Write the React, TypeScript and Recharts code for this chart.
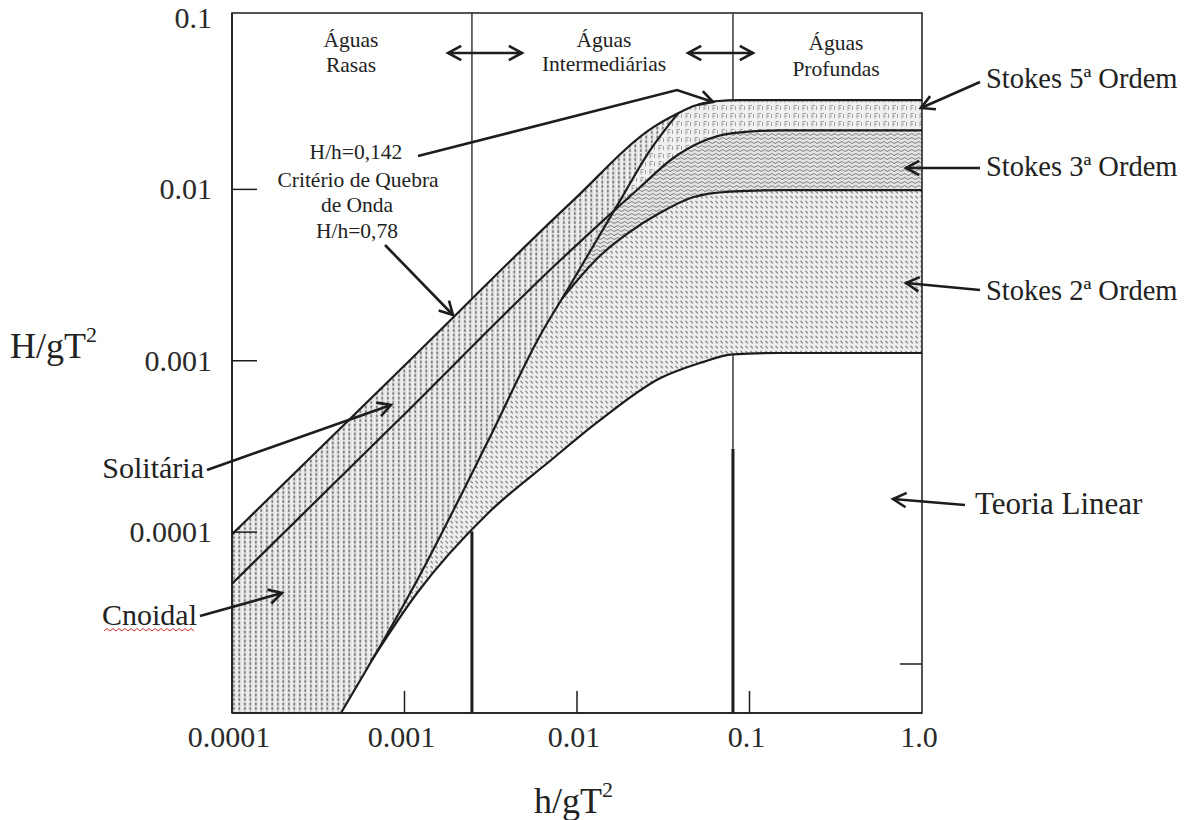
import React from 'react';
import { ComposedChart, Area, Line, XAxis, YAxis, ReferenceLine, ReferenceArea } from 'recharts';

const W = 1189;
const H = 820;
const SERIF = '"Liberation Serif", "Times New Roman", serif';
const INK = '#1d1d1d';

// axes (h/gT2 and H/gT2, both log)
const xDomain = [1e-4, 1];
const yDomain = [8.8e-6, 0.107];
const xTicks = [1e-4, 1e-3, 1e-2, 1e-1, 1];
const xTickLabels = ['0.0001', '0.001', '0.01', '0.1', '1.0'];
const yTicks = [1e-1, 1e-2, 1e-3, 1e-4];
const yTickLabels = ['0.1', '0.01', '0.001', '0.0001'];

type Pt = { x: number; y: number };

// H/h = 0.78 (shallow) -> H/L = 0.142 (deep)
const breakingLimit: Pt[] = [
  { x: 1e-4, y: 9.7e-5 },
  { x: 9.8e-4, y: 9.2e-4 },
  { x: 9.48e-3, y: 8.6e-3 },
  { x: 0.0276, y: 0.023 },
  { x: 0.0385, y: 0.0278 },
  { x: 0.047, y: 0.0306 },
  { x: 0.0631, y: 0.0327 },
  { x: 0.0885, y: 0.0332 },
  { x: 1, y: 0.0332 },
];

// solitary lower edge / Stokes 5th-3rd boundary
const stokes5Limit: Pt[] = [
  { x: 1e-4, y: 5.0e-5 },
  { x: 9.42e-4, y: 4.6e-4 },
  { x: 7.97e-3, y: 3.85e-3 },
  { x: 0.0136, y: 6.33e-3 },
  { x: 0.0232, y: 0.0103 },
  { x: 0.036, y: 0.0152 },
  { x: 0.0516, y: 0.0188 },
  { x: 0.0802, y: 0.0213 },
  { x: 0.15, y: 0.0221 },
  { x: 1, y: 0.0221 },
];

// cnoidal / Stokes boundary (steep line)
const ursellLimit: Pt[] = [
  { x: 4.28e-4, y: 8.8e-6 },
  { x: 1.18e-3, y: 5.2e-5 },
  { x: 3.05e-3, y: 3.4e-4 },
  { x: 6.1e-3, y: 1.4e-3 },
  { x: 8.75e-3, y: 2.57e-3 },
  { x: 0.01775, y: 8.6e-3 },
  { x: 0.0265, y: 0.0169 },
  { x: 0.0385, y: 0.0278 },
];

// Stokes 3rd-2nd boundary
const stokes3Limit: Pt[] = [
  { x: 8.18e-3, y: 2.3e-3 },
  { x: 0.0136, y: 4.1e-3 },
  { x: 0.0195, y: 5.5e-3 },
  { x: 0.0303, y: 7.3e-3 },
  { x: 0.047, y: 9.0e-3 },
  { x: 0.0771, y: 9.7e-3 },
  { x: 0.15, y: 9.9e-3 },
  { x: 1, y: 9.9e-3 },
];

// Stokes 2nd / linear theory boundary
const linearLimit: Pt[] = [
  { x: 6.39e-4, y: 1.76e-5 },
  { x: 1.18e-3, y: 4.4e-5 },
  { x: 3.05e-3, y: 1.29e-4 },
  { x: 6.97e-3, y: 2.6e-4 },
  { x: 0.0136, y: 4.5e-4 },
  { x: 0.0303, y: 7.9e-4 },
  { x: 0.0516, y: 9.7e-4 },
  { x: 0.0802, y: 1.09e-3 },
  { x: 0.15, y: 1.11e-3 },
  { x: 1, y: 1.11e-3 },
];

// shallow / deep water limits (h/gT2) and where their drawn pieces start and stop
const shallowX = 2.46e-3;
const deepX = 0.0802;
const regimeSegments = [
  { x: shallowX, from: 0.107, to: 2.29e-3, w: 1.3 },
  { x: shallowX, from: 1.01e-4, to: 8.8e-6, w: 3 },
  { x: deepX, from: 0.107, to: 0.0332, w: 1.3 },
  { x: deepX, from: 1.09e-3, to: 3.06e-4, w: 1.3 },
  { x: deepX, from: 3.06e-4, to: 8.8e-6, w: 3 },
];
const rightTick = { y: 1.7e-5, x0: 0.745, x1: 1 };

// region envelopes built from the curves above
const upTo = (p: Pt[], v: number) => p.filter((q) => q.x <= v);
const after = (p: Pt[], v: number) => p.filter((q) => q.x > v);
const stokes5Env = [...ursellLimit, ...after(breakingLimit, 0.0385)];
const stokes3Env = [...upTo(ursellLimit, 0.01775), ...after(stokes5Limit, 0.01775)];
const stokes2Env = [...upTo(ursellLimit, 6.1e-3), ...stokes3Limit];
const linearEnv = [...upTo(ursellLimit, 4.28e-4), ...linearLimit];

const tickIndex = (arr: number[], v: number) => arr.findIndex((t) => Math.abs(t - v) / t < 1e-6);

function XTick({ x, y, payload }: any) {
  const i = tickIndex(xTicks, payload.value);
  const inner = i > 0 && i < xTicks.length - 1;
  return (
    <g>
      {inner && <line x1={x} x2={x} y1={y} y2={y - 22} stroke={INK} strokeWidth={1.5} />}
      <text x={x - 3} y={y + 34} textAnchor="middle" fontFamily={SERIF} fontSize={30} fill="#2a2a2a">
        {xTickLabels[i]}
      </text>
    </g>
  );
}

function YTick({ x, y, payload }: any) {
  const i = tickIndex(yTicks, payload.value);
  return (
    <g>
      {yTicks[i] < 0.05 && <line x1={x} x2={x + 25} y1={y} y2={y} stroke={INK} strokeWidth={1.5} />}
      <text x={x - 20} y={y + 10} textAnchor="end" fontFamily={SERIF} fontSize={30} fill="#2a2a2a">
        {yTickLabels[i]}
      </text>
    </g>
  );
}

function head(tip: number[], from: number[], len = 15, spread = 0.5) {
  const a = Math.atan2(tip[1] - from[1], tip[0] - from[0]);
  const p1 = [tip[0] - len * Math.cos(a - spread), tip[1] - len * Math.sin(a - spread)];
  const p2 = [tip[0] - len * Math.cos(a + spread), tip[1] - len * Math.sin(a + spread)];
  return `M${p1[0]},${p1[1]} L${tip[0]},${tip[1]} L${p2[0]},${p2[1]}`;
}

function Arrow({ pts, both = false, w = 2.6 }: { pts: number[][]; both?: boolean; w?: number }) {
  const n = pts.length;
  const d = pts.map((p, i) => `${i ? 'L' : 'M'}${p[0]},${p[1]}`).join(' ');
  return (
    <g stroke={INK} strokeWidth={w} fill="none" strokeLinejoin="miter">
      <path d={d} />
      <path d={head(pts[n - 1], pts[n - 2])} />
      {both && <path d={head(pts[0], pts[1])} />}
    </g>
  );
}

const regionTitles = [
  { x: 351, y: 47, t: 'Águas' },
  { x: 351, y: 72, t: 'Rasas' },
  { x: 604, y: 47, t: 'Águas' },
  { x: 604, y: 71, t: 'Intermediárias' },
  { x: 836, y: 50, t: 'Águas' },
  { x: 836, y: 76, t: 'Profundas' },
  { x: 356, y: 159, t: 'H/h=0,142' },
  { x: 358, y: 187, t: 'Critério de Quebra' },
  { x: 357, y: 212, t: 'de Onda' },
  { x: 357, y: 238, t: 'H/h=0,78' },
];

const sideLabels = [
  { x: 986, y: 88, t: 'Stokes 5ª Ordem', a: 'start', s: 28.5 },
  { x: 986, y: 176, t: 'Stokes 3ª Ordem', a: 'start', s: 28.5 },
  { x: 986, y: 300, t: 'Stokes 2ª Ordem', a: 'start', s: 28.5 },
  { x: 975, y: 514, t: 'Teoria Linear', a: 'start', s: 31 },
  { x: 204, y: 478, t: 'Solitária', a: 'end', s: 30 },
  { x: 197, y: 625, t: 'Cnoidal', a: 'end', s: 30 },
];

const arrows = [
  { pts: [[448, 53], [522, 53]], both: true },
  { pts: [[688, 53], [753, 53]], both: true },
  { pts: [[418, 156], [677, 90], [713, 102]] },
  { pts: [[385, 245], [453, 315]] },
  { pts: [[980, 82], [921, 108]] },
  { pts: [[980, 168], [906, 168]] },
  { pts: [[980, 290], [906, 283]] },
  { pts: [[965, 505], [893, 499]] },
  { pts: [[207, 470], [391, 405]] },
  { pts: [[200, 616], [282, 593]] },
];

function Patterns() {
  return (
    <svg width={0} height={0} style={{ position: 'absolute' }}>
      <defs>
        <pattern id="patCnoidal" width={5.5} height={4.5} patternUnits="userSpaceOnUse">
          <rect width={5.5} height={4.5} fill="#e6e6e6" />
          <rect x={2} y={0.6} width={1.6} height={2.8} fill="#6e6e6e" />
          <rect x={0} y={0} width={0.8} height={4.5} fill="#f7f7f7" />
        </pattern>
        <pattern id="patStokes5" width={9} height={8} patternUnits="userSpaceOnUse">
          <rect width={9} height={8} fill="#f0f0f0" />
          <path d="M2,1.5 V6.5 M2,1.5 H5 M2,4 H4 M6.5,2 V6" stroke="#9a9a9a" strokeWidth={0.9} fill="none" />
        </pattern>
        <pattern id="patStokes3" width={7} height={4} patternUnits="userSpaceOnUse">
          <rect width={7} height={4} fill="#e4e4e4" />
          <path d="M0,2.5 Q1.75,0.5 3.5,2.5 T7,2.5" stroke="#777" strokeWidth={1} fill="none" />
        </pattern>
        <pattern id="patStokes2" width={5} height={5} patternUnits="userSpaceOnUse">
          <rect width={5} height={5} fill="#eeeeee" />
          <path d="M0.5,0.8 L2.8,3.4" stroke="#808080" strokeWidth={1.2} fill="none" />
        </pattern>
      </defs>
    </svg>
  );
}

export default function App() {
  const lines = [breakingLimit, stokes5Limit, ursellLimit, stokes3Limit, linearLimit];
  const fills = [
    { data: breakingLimit, fill: 'url(#patCnoidal)' },
    { data: stokes5Env, fill: 'url(#patStokes5)' },
    { data: stokes3Env, fill: 'url(#patStokes3)' },
    { data: stokes2Env, fill: 'url(#patStokes2)' },
    { data: linearEnv, fill: '#ffffff' },
  ];
  return (
    <div style={{ position: 'absolute', left: 0, top: 0, width: W, height: H, background: '#fff' }}>
      <Patterns />
      <ComposedChart width={W} height={H} margin={{ top: 13, right: 267, bottom: 106, left: 231 }}>
        <XAxis
          dataKey="x"
          type="number"
          scale="log"
          domain={xDomain}
          allowDataOverflow
          ticks={xTicks}
          interval={0}
          height={1}
          tickSize={0}
          tickMargin={0}
          tickLine={false}
          axisLine={{ stroke: INK, strokeWidth: 1.5 }}
          tick={<XTick />}
        />
        <YAxis
          type="number"
          scale="log"
          domain={yDomain}
          allowDataOverflow
          ticks={yTicks}
          interval={0}
          width={1}
          tickSize={0}
          tickMargin={0}
          tickLine={false}
          axisLine={{ stroke: INK, strokeWidth: 1.5 }}
          tick={<YTick />}
        />
        {fills.map((f, i) => (
          <Area
            key={'a' + i}
            data={f.data}
            dataKey="y"
            type="monotone"
            stroke="none"
            fill={f.fill}
            fillOpacity={1}
            baseValue={yDomain[0]}
            isAnimationActive={false}
          />
        ))}
        {lines.map((d, i) => (
          <Line
            key={'l' + i}
            data={d}
            dataKey="y"
            type="monotone"
            stroke={INK}
            strokeWidth={2.2}
            dot={false}
            activeDot={false}
            isAnimationActive={false}
          />
        ))}
        {regimeSegments.map((s, i) => (
          <ReferenceLine
            key={'r' + i}
            segment={[{ x: s.x, y: s.from }, { x: s.x, y: s.to }]}
            stroke={INK}
            strokeWidth={s.w}
            ifOverflow="visible"
          />
        ))}
        <ReferenceLine
          segment={[{ x: rightTick.x0, y: rightTick.y }, { x: rightTick.x1, y: rightTick.y }]}
          stroke={INK}
          strokeWidth={1.5}
        />
        <ReferenceArea
          x1={xDomain[0]}
          x2={xDomain[1]}
          y1={yDomain[0]}
          y2={yDomain[1]}
          fill="none"
          stroke={INK}
          strokeWidth={1.5}
          ifOverflow="visible"
        />
      </ComposedChart>
      <svg width={W} height={H} style={{ position: 'absolute', left: 0, top: 0, pointerEvents: 'none' }}>
        <g fontFamily={SERIF} fill="#222">
          {regionTitles.map((t, i) => (
            <text key={i} x={t.x} y={t.y} fontSize={21.5} textAnchor="middle">
              {t.t}
            </text>
          ))}
          {sideLabels.map((t, i) => (
            <text key={i} x={t.x} y={t.y} fontSize={t.s} textAnchor={t.a as any}>
              {t.t}
            </text>
          ))}
          <text x={10} y={358} fontSize={36}>
            H/gT<tspan dy={-16} fontSize={22}>2</tspan>
          </text>
          <text x={534} y={813} fontSize={36}>
            h/gT<tspan dy={-16} fontSize={22}>2</tspan>
          </text>
        </g>
        <path
          d="M104,631 l3,-2.5 l3,2.5 l3,-2.5 l3,2.5 l3,-2.5 l3,2.5 l3,-2.5 l3,2.5 l3,-2.5 l3,2.5 l3,-2.5 l3,2.5 l3,-2.5 l3,2.5 l3,-2.5 l3,2.5 l3,-2.5 l3,2.5 l3,-2.5 l3,2.5 l3,-2.5 l3,2.5 l3,-2.5 l3,2.5 l3,-2.5 l3,2.5 l3,-2.5 l3,2.5 l3,-2.5 l3,2.5"
          stroke="#d23030"
          strokeWidth={1}
          fill="none"
        />
        {arrows.map((a, i) => (
          <Arrow key={i} pts={a.pts} both={a.both} />
        ))}
      </svg>
    </div>
  );
}
